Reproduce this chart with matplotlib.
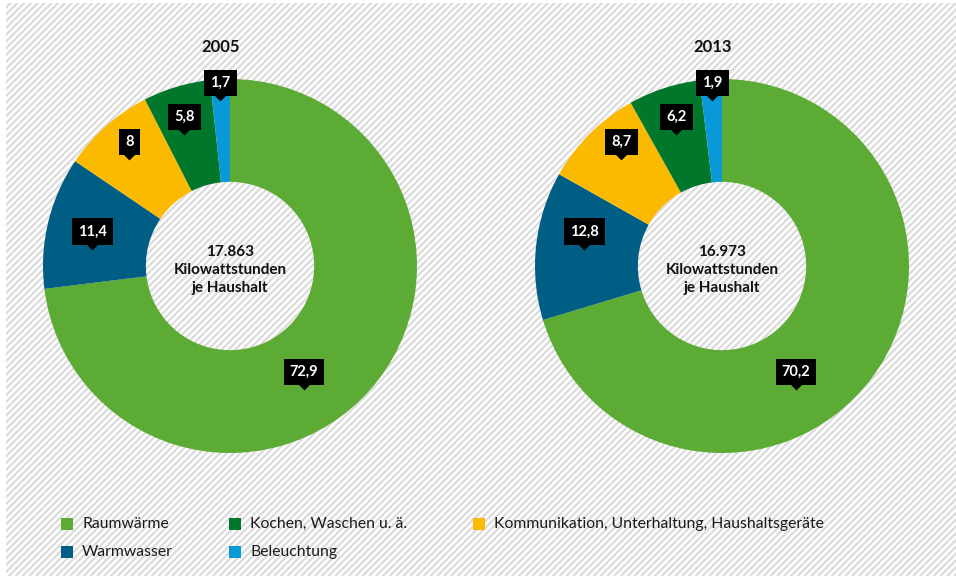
import numpy as np
import matplotlib
matplotlib.use('Agg')
import matplotlib.pyplot as plt
from matplotlib.patches import Rectangle
from matplotlib.transforms import offset_copy

plt.rcParams['font.family'] = ['Lato', 'DejaVu Sans']

# Daten
kategorien = ['Raumwärme', 'Warmwasser', 'Kommunikation, Unterhaltung, Haushaltsgeräte',
              'Kochen, Waschen u. ä.', 'Beleuchtung']
farben = ['#5cab34', '#005e85', '#fbba00', '#00772b', '#0a99d8']
jahre = ['2005', '2013']
werte_2005 = [72.9, 11.4, 8.0, 5.8, 1.7]
werte_2013 = [70.2, 12.8, 8.7, 6.2, 1.9]
summen = ['17.863', '16.973']
einheit = 'Kilowattstunden\nje Haushalt'

# Lage der Beschriftungen (Winkel in Grad, Radius relativ)
lab_winkel = [-55, 166, 129, 107, 93]
lab_radius = [0.69, 0.76, 0.855, 0.835, 0.98]

W, H = 956, 576
fig = plt.figure(figsize=(W / 100, H / 100), dpi=100)

# schraffierter Hintergrund
bg = fig.add_axes([0, 0, 1, 1], zorder=-5)
bg.set_xlim(0, W)
bg.set_ylim(H, 0)
bg.axis('off')
clip = Rectangle((6, 3), W - 6, H - 3, transform=bg.transData, fc='white', ec='none')
bg.add_patch(clip)
for c in np.arange(0, W + H, 6.8):
    ln, = bg.plot([c - H, c], [H, 0], color='#dcdcdc', lw=1.7, solid_capstyle='butt')
    ln.set_clip_path(clip)

# Ringdiagramme
R = 187
zentren = [(230, 266), (722, 266)]
for jahr, werte, summe, (cx, cy) in zip(jahre, [werte_2005, werte_2013], summen, zentren):
    ax = fig.add_axes([(cx - R) / W, (H - cy - R) / H, 2 * R / W, 2 * R / H])
    ax.pie(werte, colors=farben, startangle=90, counterclock=False, radius=1,
           wedgeprops=dict(width=0.55, edgecolor='none', linewidth=0))
    ax.set_xlim(-1, 1)
    ax.set_ylim(-1, 1)

    fig.text((cx - 9) / W, 1 - 47 / H, jahr, ha='center', va='center',
             fontsize=12, fontweight='bold', color='#111111')
    ax.text(0, -0.02, summe + '\n' + einheit, ha='center', va='center', fontsize=11,
            fontweight='bold', linespacing=1.35, color='#111111')

    tri = offset_copy(ax.transData, fig=fig, y=-11, units='dots')
    for w, a, r in zip(werte, lab_winkel, lab_radius):
        x = r * np.cos(np.radians(a))
        y = r * np.sin(np.radians(a))
        s = f'{w:g}'.replace('.', ',')
        ax.text(x, y, s, color='white', fontweight='bold', fontsize=10.5, ha='center', va='center',
                bbox=dict(boxstyle='square,pad=0.42', fc='black', ec='none'), zorder=5)
        ax.plot(x, y, marker=[(-1, 0), (1, 0), (0, -1)], ms=10, color='black', mew=0,
                transform=tri, zorder=5, clip_on=False)

# Legende
leg_pos = [(61, 524), (61, 552), (473, 524), (229, 524), (229, 552)]
for k, f, (lx, ly) in zip(kategorien, farben, leg_pos):
    fig.add_artist(Rectangle((lx / W, 1 - (ly + 6) / H), 12 / W, 12 / H,
                             transform=fig.transFigure, fc=f, ec='none'))
    fig.text((lx + 21) / W, 1 - ly / H, k, ha='left', va='center', fontsize=11.3, color='#1a1a1a')

fig.savefig('out.png', dpi=100)
